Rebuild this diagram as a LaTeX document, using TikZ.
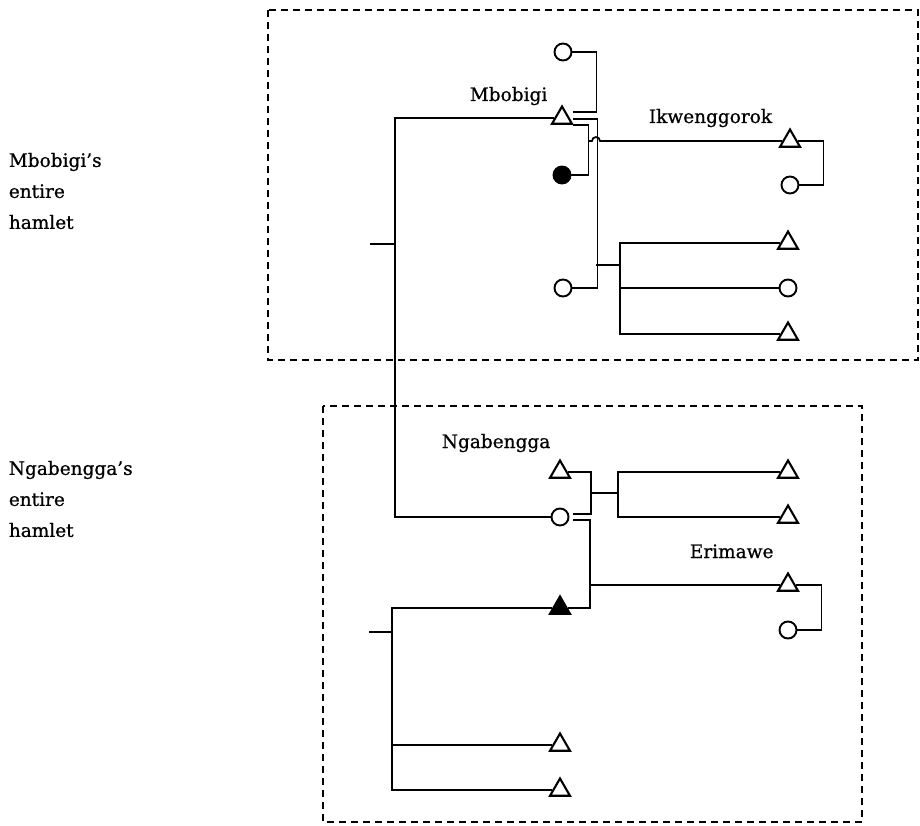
\documentclass[tikz,border=0pt]{standalone}
\usepackage{fontspec}
\setmainfont{DejaVu Serif}[FakeBold=0.8]
\usetikzlibrary{shapes.geometric,calc}
\begin{document}
\begin{tikzpicture}[x=1pt,y=-1pt,
 line width=1.7pt,
 male/.style={draw,regular polygon,regular polygon sides=3,minimum size=23pt,inner sep=0pt,line width=2.1pt},
 female/.style={draw,circle,minimum size=17pt,inner sep=0pt,line width=1.9pt},
 dead/.style={fill=black},
 lbl/.style={font=\fontsize{18.5}{31}\selectfont, inner sep=0pt},
 hamlet/.style={dash pattern=on 7pt off 5pt, line width=1.4pt}
]
\useasboundingbox (0,0) rectangle (920,826);

% hamlet boxes
\draw[hamlet] (268,10) rectangle (918,360);
\draw[hamlet] (323,406) rectangle (862,822);

% labels
\node[lbl, anchor=north west, align=left] (lh1) at (8,152) {Mbobigi's\\entire\\hamlet};
\node[lbl, anchor=north west, align=left] (lh2) at (8,460) {Ngabengga's\\entire\\hamlet};
\node[lbl, anchor=base west] (lmb) at (469,101) {Mbobigi};
\node[lbl, anchor=base west] (lik) at (648,123) {Ikwenggorok};
\node[lbl, anchor=base west] (lng) at (441,448) {Ngabengga};
\node[lbl, anchor=base west] (ler) at (689,558) {Erimawe};

% individuals, upper hamlet
\node[female] (tc1) at (563,52) {};
\node[male] (mb) at (562,118) {};
\node[female,dead] (bc) at (562,175) {};
\node[female] (wc2) at (563,288) {};
\node[male] (ik) at (790,141) {};
\node[female] (ikw) at (790,185) {};
\node[male] (c1) at (788,243) {};
\node[female] (c2) at (788,288) {};
\node[male] (c3) at (788,334) {};

% individuals, lower hamlet
\node[male] (ng) at (560,472) {};
\node[female] (ngc) at (560,517) {};
\node[male,dead] (bt) at (560,608) {};
\node[male] (n1) at (788,472) {};
\node[male] (n2) at (788,517) {};
\node[male] (er) at (788,585) {};
\node[female] (erw) at (788,630) {};
\node[male] (s1) at (560,745) {};
\node[male] (s2) at (560,790) {};

% helper coordinates
\coordinate (kb) at (395,517);
\coordinate (stubA) at (370,244);
\coordinate (ikj) at (588,141);
\coordinate (d1) at (596,265);
\coordinate (sib1) at (620,265);
\coordinate (mx) at (590,0);
\coordinate (d2) at (590,493);
\coordinate (sib2) at (618,493);
\coordinate (d3) at (590,585);
\coordinate (kc) at (392,608);
\coordinate (stubB) at (369,632);

% upper sibling line
\draw (mb.west) -| (kb) -- (ngc.west);
\draw (stubA) -- (stubA -| kb);

% Mbobigi's marriages
\draw ($(mb)+(11,-6)$) -| ($(tc1.east)+(24,0)$) -- (tc1.east);
\draw ($(mb)+(11,1)$) -| ($(wc2.east)+(25,0)$) -- (wc2.east);
\draw ($(mb)+(11,7)$) -| ($(bc.east)+(17,0)$) -- (bc.east);

% Ikwenggorok, child of Mbobigi and the dead wife
\draw (ikj) -- (592,141) arc[start angle=180, end angle=360, radius=4] -- (ik.west);
\draw (ik.east) -| ($(ikw.east)+(24,0)$) -- (ikw.east);

% children of Mbobigi and second wife
\draw (d1) -- (sib1);
\draw (c1.west) -- (c1.west -| sib1) -- (c3.west -| sib1) -- (c3.west);
\draw (c2.west) -- (c2.west -| sib1);

% Ngabengga's marriages
\draw (ng.east) -| ($(ngc.east)+(21.5,-3)$) -- ($(ngc.east)+(4,-3)$);
\draw ($(ngc.east)+(4,3)$) -| (bt.east -| mx) -- (bt.east);

% children of Ngabengga and her
\draw (d2) -- (sib2);
\draw (n1.west) -- (n1.west -| sib2) -- (n2.west -| sib2) -- (n2.west);

% Erimawe
\draw (d3) -- (er.west);
\draw (er.east) -| ($(erw.east)+(24,0)$) -- (erw.east);

% lower sibling line
\draw (bt.west) -| (kc |- s2.west) -- (s2.west);
\draw (s1.west) -- (s1.west -| kc);
\draw (stubB) -- (stubB -| kc);
\end{tikzpicture}
\end{document}
